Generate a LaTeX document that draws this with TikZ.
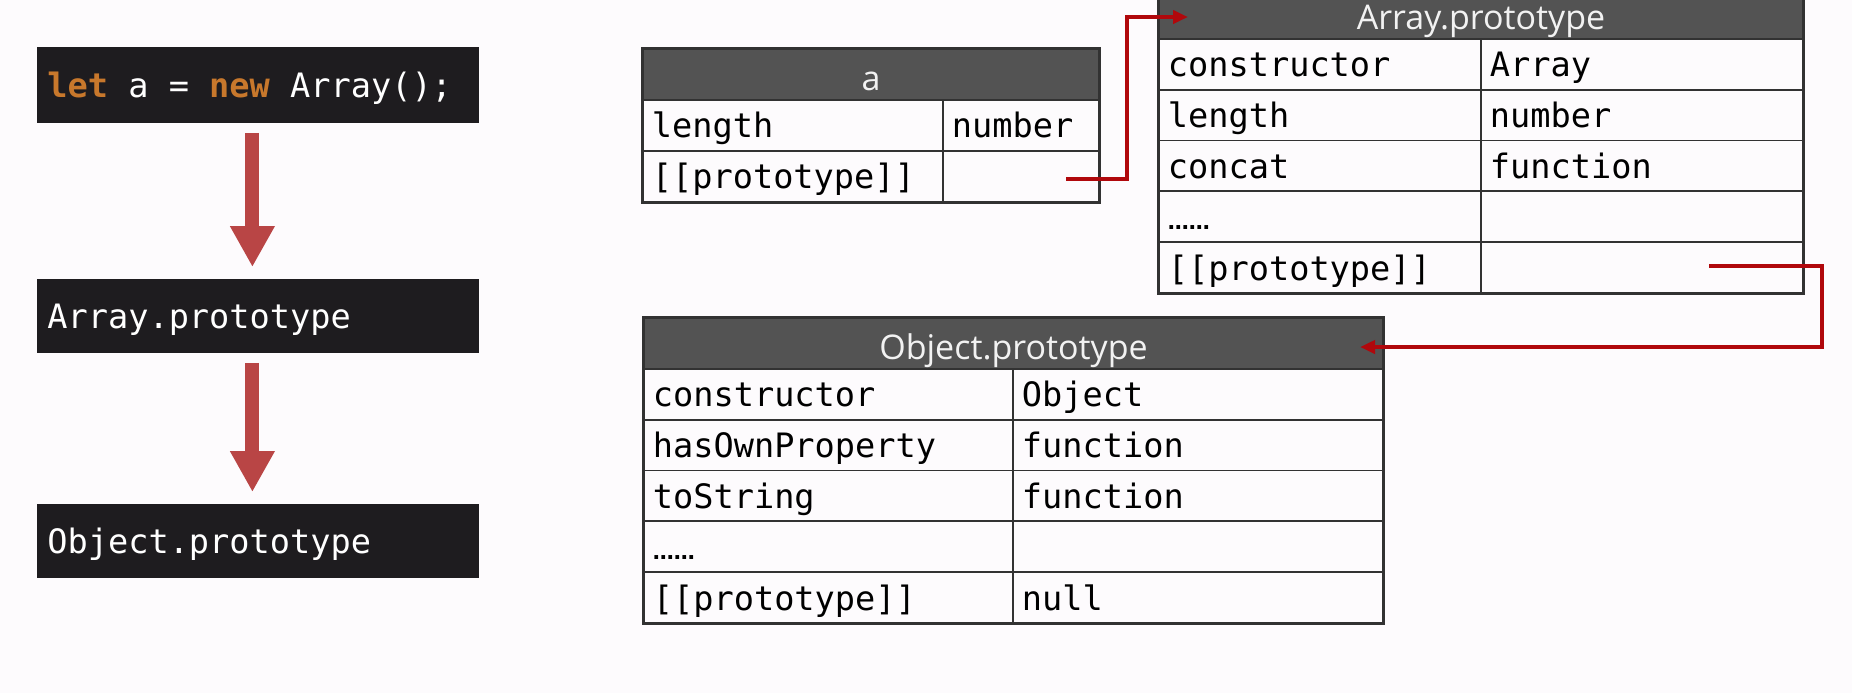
\documentclass[tikz,border=0pt]{standalone}
\usepackage{fontspec}
\setmainfont{Open Sans}
\newfontfamily\monof{DejaVu Sans Mono}
\newfontfamily\dotf{DejaVu Sans}
\usetikzlibrary{arrows.meta}
\definecolor{pagebg}{RGB}{253,251,253}
\definecolor{boxbg}{RGB}{30,28,31}
\definecolor{kw}{RGB}{200,120,44}
\definecolor{hdrbg}{RGB}{83,83,83}
\definecolor{hdrtxt}{RGB}{242,242,242}
\definecolor{gridc}{RGB}{50,50,50}
\definecolor{flowred}{RGB}{185,69,69}
\definecolor{linkred}{RGB}{176,8,12}
\tikzset{
  codebox/.style={fill=boxbg, draw=none, anchor=north west, inner xsep=5pt, inner ysep=0pt,
    minimum width=221pt, text width=211pt, align=left, text=white,
    font=\monof\fontsize{16.8}{20}\selectfont},
  bigflow/.style={draw=flowred, line width=7pt, -{Triangle[length=20.5pt,width=21pt]},
    shorten <=4.5pt, shorten >=6pt},
  hdr/.style={fill=hdrbg, draw=gridc, line width=1pt, anchor=north west, inner sep=0pt,
    text height=20.5pt, text depth=5pt, align=center, text=hdrtxt,
    font=\fontsize{17}{20}\selectfont},
  cell/.style={draw=gridc, line width=0.9pt, anchor=north west, inner xsep=4.5pt, inner ysep=0pt,
    text height=19pt, text depth=6.4pt, align=left, text=black,
    font=\monof\fontsize{16.8}{20}\selectfont},
  outer/.style={draw=gridc, line width=1.2pt},
  link/.style={draw=linkred, line width=2pt, -{Triangle[length=7.5pt,width=6.5pt]}},
}
\newcommand{\dotsrow}{{\dotf\bfseries\fontsize{10.5}{12}\selectfont ……}}
\newcommand{\msp}{\hspace*{0.6021em}}
\begin{document}
\begin{tikzpicture}[x=0.5pt,y=-0.5pt]
\useasboundingbox (0,0) rectangle (1852,693);
\fill[pagebg] (0,0) rectangle (1852,693);
\clip (0,0) rectangle (1852,693);

% left flow
\node[codebox, minimum height=38pt, text height=25pt, text depth=13pt] (b1) at (37,47)
  {{\bfseries\color{kw}let}\msp a\msp=\msp{\bfseries\color{kw}new}\msp Array();};
\node[codebox, minimum height=37pt, text height=24.5pt, text depth=12.5pt] (b2) at (37,279)
  {Array.prototype};
\node[codebox, minimum height=37pt, text height=24.5pt, text depth=12.5pt] (b3) at (37,504)
  {Object.prototype};
\draw[bigflow] ([xshift=-3pt]b1.south) -- ([xshift=-3pt]b2.north);
\draw[bigflow] ([xshift=-3pt]b2.south) -- ([xshift=-3pt]b3.north);

% table a
\node[hdr, minimum width=228pt, text width=228pt] (ah) at (642,48) {a};
\node[cell, text width=141pt] (a1k) at (642,99) {length};
\node[cell, text width=69pt] (a1v) at (942,99) {number};
\node[cell, text width=141pt] (a2k) at (642,150) {[[prototype]]};
\node[cell, text width=69pt] (a2v) at (942,150) {};
\draw[outer] (ah.north west) rectangle (a2v.south east);

% table Array.prototype
\node[hdr, minimum width=322pt, text width=322pt] (Ah) at (1158,-13) {Array.prototype};
\node[cell, text width=152pt] (A1k) at (1158,38) {constructor};
\node[cell, text width=152pt] (A1v) at (1480,38) {Array};
\node[cell, text width=152pt] (A2k) at (1158,88.8) {length};
\node[cell, text width=152pt] (A2v) at (1480,88.8) {number};
\node[cell, text width=152pt] (A3k) at (1158,139.6) {concat};
\node[cell, text width=152pt] (A3v) at (1480,139.6) {function};
\node[cell, text width=152pt] (A4k) at (1158,190.4) {\dotsrow};
\node[cell, text width=152pt] (A4v) at (1480,190.4) {};
\node[cell, text width=152pt] (A5k) at (1158,241.2) {[[prototype]]};
\node[cell, text width=152pt] (A5v) at (1480,241.2) {};
\draw[outer] (Ah.north west) rectangle (A5v.south east);

% table Object.prototype
\node[hdr, minimum width=369.5pt, text width=369.5pt] (Oh) at (643,317) {Object.prototype};
\node[cell, text width=175.5pt] (O1k) at (643,368) {constructor};
\node[cell, text width=176pt] (O1v) at (1012,368) {Object};
\node[cell, text width=175.5pt] (O2k) at (643,418.8) {hasOwnProperty};
\node[cell, text width=176pt] (O2v) at (1012,418.8) {function};
\node[cell, text width=175.5pt] (O3k) at (643,469.6) {toString};
\node[cell, text width=176pt] (O3v) at (1012,469.6) {function};
\node[cell, text width=175.5pt] (O4k) at (643,520.4) {\dotsrow};
\node[cell, text width=176pt] (O4v) at (1012,520.4) {};
\node[cell, text width=175.5pt] (O5k) at (643,571.2) {[[prototype]]};
\node[cell, text width=176pt] (O5v) at (1012,571.2) {null};
\draw[outer] (Oh.north west) rectangle (O5v.south east);

% links
\coordinate (aP) at (1066,179);
\coordinate (aBend) at (1127,179);
\coordinate (Atip) at (1188,17);
\coordinate (AP) at (1709,266);
\coordinate (ABend) at (1822,266);
\coordinate (Otip) at (1360,347);
\draw[link] (aP) -- (aBend) |- (Atip);
\draw[link] (AP) -- (ABend) |- (Otip);
\end{tikzpicture}
\end{document}
